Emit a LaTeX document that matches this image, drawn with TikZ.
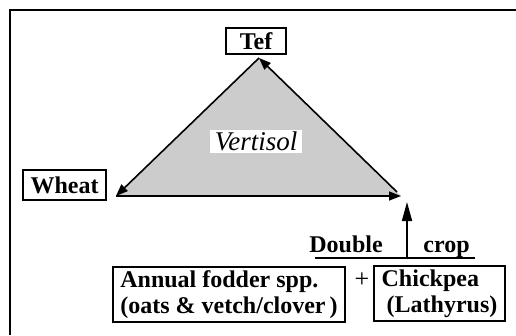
\documentclass[tikz,border=0pt]{standalone}
\usepackage{fontspec}
\setmainfont{Liberation Serif}
\usetikzlibrary{arrows.meta}
\begin{document}
\begin{tikzpicture}[x=1pt,y=-1pt,
  txt/.style={font=\fontsize{24}{26}\selectfont\bfseries},
  box/.style={txt, draw, line width=1.2pt, inner sep=0pt},
  conn/.style={line width=1.6pt, -{Triangle[length=12pt,width=9pt]}},
]
\useasboundingbox (0,0) rectangle (516,335);
\fill[white] (0,0) rectangle (516,335);
\draw[line width=1.5pt] (10,335) -- (10,10) -- (516,10);
% triangle
\coordinate (T) at (259,58);
\coordinate (L) at (116,196);
\coordinate (R) at (401,196);
\coordinate (R2) at (397,192);
\fill[black!20] (T) -- (L) -- (R) -- cycle;
\node[box, minimum width=60pt, minimum height=26pt] (tef) at (256,41) {Tef};
\node[box, minimum width=83pt, minimum height=30pt] (wheat) at (64.5,185) {Wheat};
\node[fill=white, inner sep=0pt, minimum width=92pt, minimum height=23pt,
      font=\fontsize{27}{28}\selectfont\itshape] (vert) at (256,141.5) {Vertisol};
\draw[conn] (T) -- (L);
\draw[conn] (L) -- (R);
\draw[conn] (R2) -- (T);
% double crop
\coordinate (lineL) at (315,258);
\coordinate (lineR) at (475,258);
\coordinate (upfoot) at (407,258);
\coordinate (uptip) at (407,202);
\draw[line width=1.3pt] (lineL) -- (lineR);
\draw[line width=1.6pt, -{Triangle[length=19pt,width=10pt]}] (upfoot) -- (uptip);
\node[txt, inner sep=0pt, anchor=base] (double) at (346,252) {Double};
\node[txt, inner sep=0pt, anchor=base] (crop) at (446.5,252) {crop};
% bottom boxes
\node[box, minimum width=232pt, minimum height=55pt, align=left] (annual) at (229,294.5)
  {Annual fodder spp.\\(oats \& vetch/clover\,)};
\node[font=\fontsize{26}{28}\selectfont, inner sep=0pt] (plus) at (362,280) {+};
\node[box, minimum width=131pt, minimum height=55pt, align=left] (chick) at (439.5,293.5)
  {Chickpea\\\hspace*{5pt}(Lathyrus)};
\end{tikzpicture}
\end{document}
